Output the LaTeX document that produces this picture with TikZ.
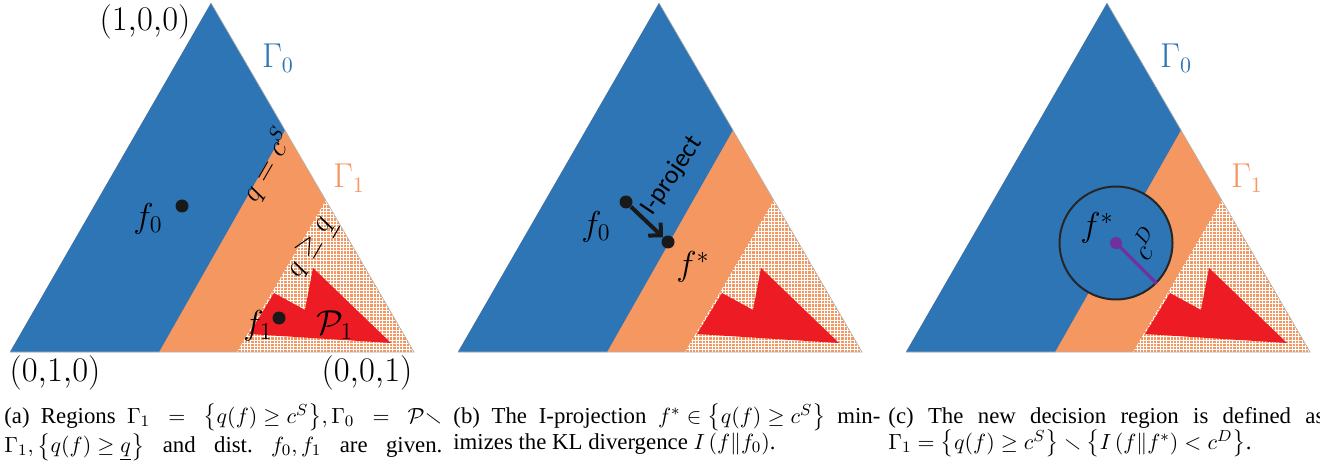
\documentclass[tikz,border=0pt]{standalone}
\usepackage{amsmath,amssymb}
\usepackage{fontspec}
\setmainfont{Liberation Serif}
\newfontfamily\labelsans{Carlito}
\usetikzlibrary{arrows.meta}
\definecolor{SimplexBlue}{RGB}{46,117,182}
\definecolor{SimplexOrange}{RGB}{244,151,96}
\definecolor{SimplexRed}{RGB}{237,28,36}
\definecolor{SimplexPurple}{RGB}{112,48,160}

\begin{document}
\begin{tikzpicture}[x=0.5pt,y=-0.5pt,
  dot/.style={circle,fill=black!90,inner sep=0pt,minimum size=6.5pt},
  vertex/.style={font=\fontsize{16}{18}\selectfont},
  flabel/.style={font=\fontsize{18}{20}\selectfont},
  region/.style={font=\fontsize{16}{18}\selectfont},
  level/.style={font=\fontsize{14}{16}\selectfont,rotate=60},
  caption/.style={font=\fontsize{11.4}{11.6}\selectfont,text width=218pt,align=justify,inner sep=0pt,anchor=base west}]
\useasboundingbox (0,0) rectangle (1320,464);
\foreach \dx in {0,448,896}{
  \begin{scope}[shift={(\dx,0)}]
  \fill[SimplexOrange] (211,3) -- (414,352) -- (10,352) -- cycle;
  \fill[SimplexBlue] (10,352) -- (211,3) -- (285,130) -- (159,352) -- cycle;
  \begin{scope}
    \clip (326,200) -- (414,352) -- (237,352) -- cycle;
    \draw[white,line width=0.35pt,step=1.65pt] (230,356) grid (420,195);
  \end{scope}
  \fill[SimplexRed] (249,334) -- (274,293) -- (305,310) -- (313,268) -- (391,343) -- cycle;
  \draw[black!30,line width=0.3pt] (211,3) -- (414,352) -- (10,352);
  \end{scope}
}
% (a)
\node[dot] (f0a) at (182,206) {};
\node[flabel] (f0alab) at (148,219) {$f_0$};
\node[dot] (f1a) at (279,318) {};
\node[flabel] (f1alab) at (258,326) {$f_1$};
\node[flabel] (p1a) at (335,325) {$\mathcal{P}_1$};
\node[region,text=SimplexBlue] (g0a) at (278,58) {$\Gamma_0$};
\node[region,text=SimplexOrange] (g1a) at (349,178) {$\Gamma_1$};
\node[vertex] (top) at (145,22) {$(1{,}0{,}0)$};
\node[vertex] (left) at (55,373) {$(0{,}1{,}0)$};
\node[vertex] (right) at (367,373) {$(0{,}0{,}1)$};
\node[level] (qcs) at (267,165) {$q=c^S$};
\node[level] (qlow) at (312,248) {$q\geq\underline{q}$};
% (b)
\node[dot] (f0b) at (626,202) {};
\node[flabel] (f0blab) at (596,227) {$f_0$};
\node[dot] (fsb) at (668,242) {};
\node[flabel] (fsblab) at (693,267) {$f^*$};
\draw[black!90,line width=2pt,-{Straight Barb[length=4.5pt,width=9pt]}] (f0b) -- (fsb);
\node[font=\labelsans\fontsize{13}{15}\selectfont,rotate=56] (proj) at (672,176) {I-project};
% (c)
\node[circle,draw=black!85,line width=1pt,fill=SimplexBlue,minimum size=56.5pt,inner sep=0pt] (ball) at (1116,243) {};
\node[circle,fill=SimplexPurple,inner sep=0pt,minimum size=6pt] (fsc) at (1116,243) {};
\draw[SimplexPurple,line width=1.6pt] (fsc.center) -- (ball.-45);
\node[flabel] (fsclab) at (1097,228) {$f^*$};
\node[level] (cd) at (1145,243) {$c^D$};
\node[region,text=SimplexBlue] (g0c) at (1176,58) {$\Gamma_0$};
\node[region,text=SimplexOrange] (g1c) at (1247,178) {$\Gamma_1$};
% captions
\node[caption,text width=219pt] (capa) at (4,423) {(a) Regions $\Gamma_1=\big\{{q(f)\geq c^S}\big\},\Gamma_0=\mathcal{P}\smallsetminus$\linebreak \makebox[\linewidth][s]{$\Gamma_1,\big\{{q(f)\geq\underline{q}}\big\}$ and dist.\ $f_0,f_1$ are given.}};
\node[caption,text width=213.5pt] (capb) at (453,423) {(b) The I-projection ${f^*\in\big\{q(f)\geq c^S\big\}}$ min-\linebreak imizes the KL divergence $I\left(f\|f_0\right)$.};
\node[caption] (capc) at (888,423) {(c) The new decision region is defined as\linebreak ${\Gamma_1=\big\{q(f)\geq c^S\big\}\smallsetminus\big\{I\left(f\|f^*\right)<c^D\big\}}$.};
\end{tikzpicture}
\end{document}
